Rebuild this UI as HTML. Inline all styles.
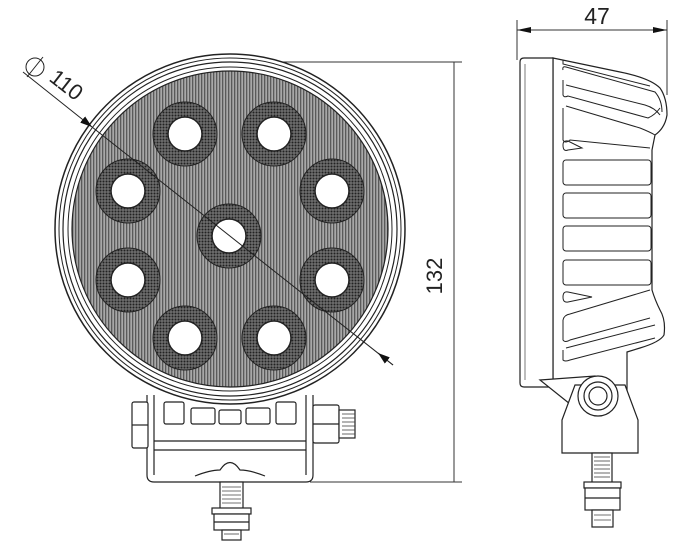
<!DOCTYPE html>
<html><head><style>
html,body{margin:0;padding:0;background:#fff;}
svg{display:block;}
text{font-family:"Liberation Sans",sans-serif;fill:#222;}
</style></head><body>
<svg width="700" height="557" viewBox="0 0 700 557" xmlns="http://www.w3.org/2000/svg">
<defs>
<pattern id="vh" width="3" height="4" patternUnits="userSpaceOnUse">
<rect width="3" height="4" fill="#a8a8a8"/><rect width="1.3" height="4" fill="#5a5a5a"/>
</pattern>
<pattern id="dots" width="3" height="3" patternUnits="userSpaceOnUse">
<rect width="3" height="3" fill="#6e6e6e"/><circle cx="1.5" cy="1.5" r="1" fill="#222"/>
</pattern>
<marker id="ar" markerWidth="12" markerHeight="8" refX="12" refY="4" orient="auto" markerUnits="userSpaceOnUse">
<path d="M0,0 L12,4 L0,8 z" fill="#111"/>
</marker>
</defs>

<g stroke="#333" stroke-width="1" fill="none">
<line x1="240" y1="62" x2="462" y2="62"/>
<line x1="310" y1="482" x2="462" y2="482"/>
<line x1="454" y1="62" x2="454" y2="482"/>
</g>
<text x="0" y="0" font-size="22" transform="translate(442,276) rotate(-90)" text-anchor="middle">132</text>

<g stroke="#222" stroke-width="1.2" fill="#fff">
<path d="M147,395 L147,475 Q147,482 154,482 L306,482 Q313,482 313,475 L313,395"/>
<line x1="154" y1="395" x2="154" y2="475"/>
<line x1="306" y1="395" x2="306" y2="475"/>
<line x1="154" y1="441" x2="306" y2="441"/>
<line x1="154" y1="450" x2="306" y2="450"/>
<path d="M195,476 Q210,470 220,470 Q230,455 240,470 Q250,470 265,476"/>
<rect x="164" y="402" width="20" height="22" rx="2"/>
<rect x="191" y="408" width="24" height="16" rx="2"/>
<rect x="219" y="410" width="22" height="14" rx="2"/>
<rect x="246" y="408" width="24" height="16" rx="2"/>
<rect x="276" y="402" width="20" height="22" rx="2"/>
<rect x="132" y="402" width="16" height="46" rx="2"/>
<line x1="132" y1="425" x2="148" y2="425"/>
<rect x="313" y="405" width="26" height="38" rx="2"/>
<line x1="313" y1="424" x2="339" y2="424"/>
<rect x="339" y="410" width="16" height="28"/>
<rect x="220" y="482" width="23" height="28"/>
<rect x="212" y="508" width="39" height="6"/>
<rect x="214" y="514" width="35" height="16"/>
<line x1="214" y1="522" x2="249" y2="522"/>
<rect x="222" y="530" width="19" height="10"/>
</g>
<g stroke="#444" stroke-width="0.8">
<line x1="342" y1="414" x2="355" y2="414"/><line x1="342" y1="418" x2="355" y2="418"/><line x1="342" y1="422" x2="355" y2="422"/><line x1="342" y1="426" x2="355" y2="426"/><line x1="342" y1="430" x2="355" y2="430"/><line x1="342" y1="434" x2="355" y2="434"/>
<line x1="222" y1="487" x2="241" y2="487"/><line x1="222" y1="491" x2="241" y2="491"/><line x1="222" y1="495" x2="241" y2="495"/><line x1="222" y1="499" x2="241" y2="499"/><line x1="222" y1="503" x2="241" y2="503"/><line x1="224" y1="534" x2="239" y2="534"/>
</g>

<circle cx="230" cy="229" r="175" fill="#fff" stroke="#222" stroke-width="1.5"/>
<circle cx="230" cy="229" r="171" fill="none" stroke="#222" stroke-width="1"/>
<circle cx="230" cy="229" r="167" fill="none" stroke="#222" stroke-width="1.2"/>
<circle cx="230" cy="229" r="162" fill="none" stroke="#222" stroke-width="1"/>
<circle cx="230" cy="229" r="158" fill="url(#vh)" stroke="#222" stroke-width="1.2"/>
<g stroke="#222" stroke-width="1">
<g fill="url(#dots)">
<circle cx="185" cy="134" r="32"/><circle cx="274" cy="134" r="32"/>
<circle cx="128" cy="191" r="32"/><circle cx="332" cy="191" r="32"/>
<circle cx="229" cy="236" r="32"/>
<circle cx="128" cy="280" r="32"/><circle cx="332" cy="280" r="32"/>
<circle cx="185" cy="338" r="32"/><circle cx="274" cy="338" r="32"/>
</g>
<g fill="#fff" stroke-width="1.5">
<circle cx="185" cy="134" r="17"/><circle cx="274" cy="134" r="17"/>
<circle cx="128" cy="191" r="17"/><circle cx="332" cy="191" r="17"/>
<circle cx="229" cy="236" r="17"/>
<circle cx="128" cy="280" r="17"/><circle cx="332" cy="280" r="17"/>
<circle cx="185" cy="338" r="17"/><circle cx="274" cy="338" r="17"/>
</g>
</g>

<line x1="23" y1="72" x2="92" y2="127" stroke="#222" stroke-width="1" marker-end="url(#ar)"/>
<line x1="92" y1="127" x2="393" y2="365" stroke="#222" stroke-width="1"/>
<line x1="393" y1="365" x2="378" y2="353" stroke="#222" stroke-width="1" marker-end="url(#ar)"/>
<circle cx="35" cy="67" r="9" fill="none" stroke="#222" stroke-width="1"/>
<line x1="27" y1="77" x2="43" y2="57" stroke="#222" stroke-width="1"/>
<text font-size="22" transform="translate(48,80) rotate(38)">110</text>

<g stroke="#333" stroke-width="1">
<line x1="517" y1="20" x2="517" y2="60"/>
<line x1="667" y1="20" x2="667" y2="95"/>
<line x1="517" y1="30" x2="667" y2="30"/>
</g>
<path d="M517,30 L531,27 L531,33 z" fill="#111"/>
<path d="M667,30 L653,27 L653,33 z" fill="#111"/>
<text x="597" y="24" font-size="23" text-anchor="middle">47</text>

<g stroke="#222" stroke-width="1.2" fill="#fff">
<path d="M553,58 L620,72 Q650,78 660,88 Q667,98 667,115 Q665,128 655,135 L652,150 L652,290 Q655,300 660,310 Q666,320 664,335 Q660,342 640,348 L627,352 L627,395 L553,385 Z"/>
<path d="M520,62 Q520,58 524,58 L553,58 L553,387 L524,387 Q520,387 520,383 Z"/>
<line x1="525" y1="64" x2="525" y2="380" stroke-width="0.6"/>
<path d="M540,380 L595,376 L598,395 L575,408 Z"/>
<path d="M562,420 L575,385 L625,385 L638,420 L638,453 L562,453 Z"/>
<circle cx="598" cy="396" r="20"/>
<circle cx="598" cy="396" r="14"/>
<circle cx="598" cy="396" r="9"/>
<rect x="592" y="453" width="20" height="30"/>
<rect x="584" y="482" width="37" height="6"/>
<rect x="585" y="488" width="35" height="22"/>
<line x1="585" y1="498" x2="620" y2="498"/>
<rect x="592" y="510" width="21" height="17"/>
</g>
<g stroke="#222" stroke-width="1" fill="none">
<path d="M563,60 L563,64 L650,86"/>
<path d="M563,70 Q562,66 566,67 L655,92 Q662,100 662,112"/>
<path d="M563,80 L563,95 Q564,98 568,96 L648,118 Q655,115 660,108 M566,85 L645,105 Q655,108 660,115"/>
<path d="M563,108 L563,140 Q565,144 570,140 L650,148 M566,106 L640,128 Q650,132 655,135"/>
<path d="M563,145 Q563,152 568,150 L582,148 L568,141 Q563,140 563,145"/>
<rect x="563" y="160" width="88" height="25" rx="3"/>
<rect x="563" y="193" width="88" height="25" rx="3"/>
<rect x="563" y="226" width="88" height="25" rx="3"/>
<rect x="563" y="260" width="88" height="25" rx="3"/>
<path d="M563,297 Q563,303 568,302 L592,297 L568,292 Q563,291 563,297"/>
<path d="M563,320 L563,340 Q565,343 570,340 L650,318 M563,320 Q564,315 570,314 L650,290"/>
<path d="M563,350 L563,360 Q565,362 570,360 L655,338 M566,348 L655,325"/>
</g>
<g stroke="#444" stroke-width="0.8">
<line x1="594" y1="457" x2="610" y2="457"/><line x1="594" y1="461" x2="610" y2="461"/><line x1="594" y1="465" x2="610" y2="465"/><line x1="594" y1="469" x2="610" y2="469"/><line x1="594" y1="473" x2="610" y2="473"/><line x1="594" y1="477" x2="610" y2="477"/><line x1="594" y1="515" x2="611" y2="515"/><line x1="594" y1="520" x2="611" y2="520"/>
</g>
</svg>
</body></html>
